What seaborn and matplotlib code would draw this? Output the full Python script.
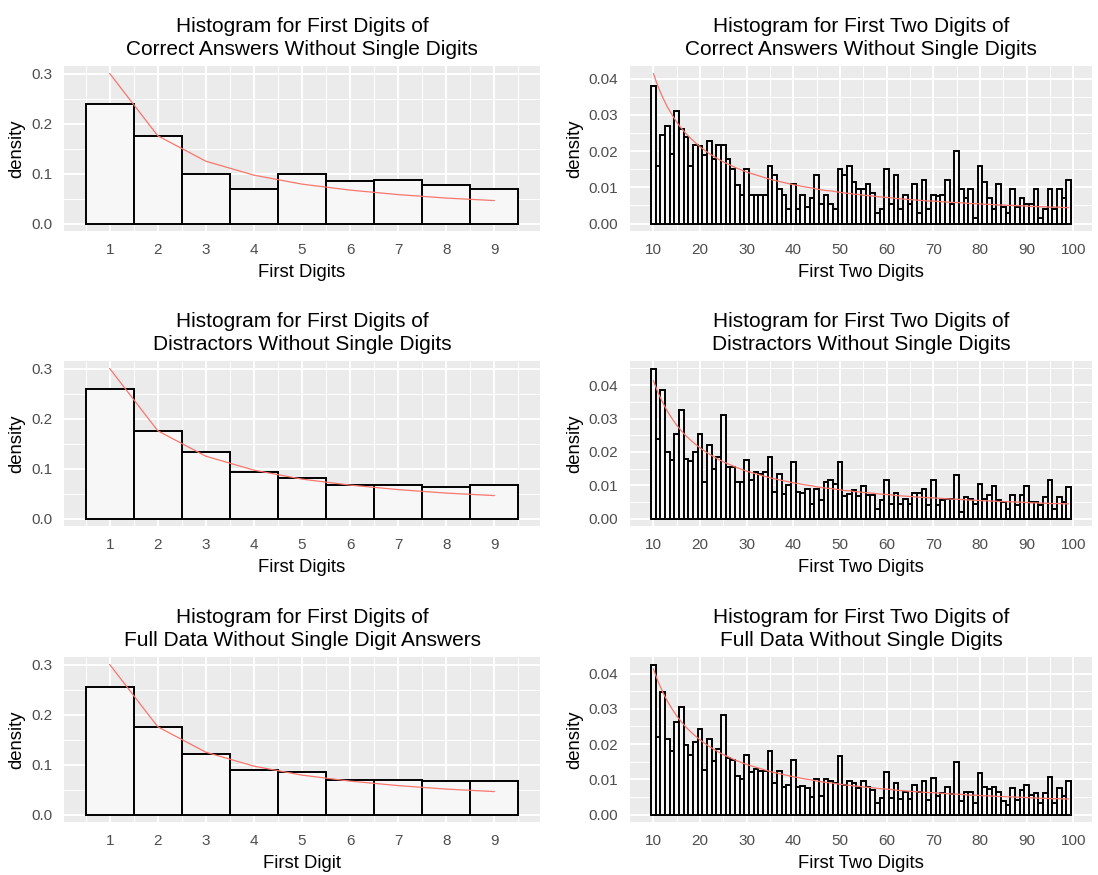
import numpy as np
import pandas as pd
import matplotlib
matplotlib.use("Agg")
import matplotlib.pyplot as plt
import seaborn as sns
from matplotlib.ticker import FixedLocator, MultipleLocator, FormatStrFormatter

# ---------------- data ----------------
first_digits = list(range(1, 10))
two_digits = list(range(10, 100))

correct_first = [0.240, 0.175, 0.100, 0.070, 0.100, 0.085, 0.088, 0.077, 0.070]
distractor_first = [0.260, 0.175, 0.133, 0.093, 0.082, 0.068, 0.067, 0.063, 0.067]
full_first = [0.255, 0.175, 0.122, 0.089, 0.085, 0.070, 0.070, 0.067, 0.067]
benford_first = [0.301, 0.176, 0.125, 0.097, 0.079, 0.067, 0.058, 0.051, 0.046]

correct_two = [
    0.038, 0.016, 0.0243, 0.0269, 0.0192, 0.031, 0.026, 0.024, 0.016, 0.0218,
    0.0215, 0.019, 0.0228, 0.0178, 0.0218, 0.0218, 0.0178, 0.015, 0.0105, 0.008,
    0.015, 0.008, 0.008, 0.008, 0.008, 0.016, 0.0135, 0.0095, 0.008, 0.004,
    0.011, 0.004, 0.008, 0.0045, 0.007, 0.0135, 0.0055, 0.008, 0.0055, 0.004,
    0.015, 0.0135, 0.016, 0.0115, 0.0095, 0.0095, 0.011, 0.0085, 0.003, 0.004,
    0.015, 0.0055, 0.0135, 0.004, 0.008, 0.0055, 0.011, 0.003, 0.012, 0.004,
    0.008, 0.0075, 0.008, 0.012, 0.0055, 0.020, 0.0095, 0.007, 0.0095, 0.0015,
    0.016, 0.0115, 0.007, 0.004, 0.011, 0.0045, 0.003, 0.0095, 0.0045, 0.007,
    0.0055, 0.0055, 0.0095, 0.0015, 0.004, 0.0095, 0.004, 0.0095, 0.007, 0.012,
]
distractor_two = [
    0.045, 0.024, 0.0385, 0.020, 0.0175, 0.0253, 0.0325, 0.018, 0.0173, 0.020,
    0.0253, 0.011, 0.022, 0.015, 0.0185, 0.031, 0.0155, 0.0155, 0.011, 0.011,
    0.0175, 0.0115, 0.014, 0.0135, 0.014, 0.0185, 0.008, 0.0133, 0.0075, 0.010,
    0.017, 0.008, 0.0078, 0.009, 0.0045, 0.009, 0.0055, 0.011, 0.0115, 0.0105,
    0.017, 0.0068, 0.0075, 0.0086, 0.0068, 0.0098, 0.007, 0.007, 0.003, 0.0055,
    0.0115, 0.0043, 0.0076, 0.0043, 0.006, 0.0043, 0.0076, 0.0076, 0.0088, 0.004,
    0.0115, 0.004, 0.0055, 0.006, 0.006, 0.013, 0.002, 0.0065, 0.006, 0.0045,
    0.0105, 0.006, 0.0072, 0.0098, 0.0055, 0.005, 0.003, 0.007, 0.004, 0.007,
    0.0098, 0.005, 0.005, 0.004, 0.0065, 0.0115, 0.003, 0.0066, 0.005, 0.0095,
]
full_two = [
    0.0426, 0.022, 0.0347, 0.0215, 0.018, 0.0263, 0.0304, 0.0196, 0.017, 0.0206,
    0.0242, 0.0127, 0.0215, 0.0153, 0.0185, 0.0284, 0.016, 0.0155, 0.011, 0.010,
    0.017, 0.012, 0.013, 0.0123, 0.0123, 0.018, 0.009, 0.0123, 0.0078, 0.0085,
    0.0155, 0.0078, 0.008, 0.0075, 0.005, 0.010, 0.0053, 0.010, 0.0095, 0.009,
    0.0165, 0.0085, 0.0095, 0.009, 0.0075, 0.0095, 0.0078, 0.007, 0.0033, 0.0048,
    0.012, 0.0048, 0.009, 0.0045, 0.0065, 0.0045, 0.0085, 0.0065, 0.0095, 0.004,
    0.0105, 0.0053, 0.006, 0.0078, 0.0057, 0.0148, 0.0038, 0.0064, 0.0064, 0.0033,
    0.0117, 0.0077, 0.0072, 0.0078, 0.0065, 0.0038, 0.0027, 0.0075, 0.004, 0.007,
    0.0085, 0.0055, 0.006, 0.0033, 0.006, 0.0106, 0.0033, 0.0075, 0.0053, 0.0096,
]
benford_two = [
    0.0414, 0.0378, 0.0348, 0.0322, 0.0300, 0.0280, 0.0263, 0.0248, 0.0235, 0.0223,
    0.0212, 0.0202, 0.0193, 0.0185, 0.0177, 0.0170, 0.0164, 0.0158, 0.0152, 0.0147,
    0.0142, 0.0138, 0.0134, 0.0130, 0.0126, 0.0122, 0.0119, 0.0116, 0.0113, 0.0110,
    0.0107, 0.0105, 0.0102, 0.0100, 0.0098, 0.0095, 0.0093, 0.0091, 0.0090, 0.0088,
    0.0086, 0.0084, 0.0083, 0.0081, 0.0080, 0.0078, 0.0077, 0.0076, 0.0074, 0.0073,
    0.0072, 0.0071, 0.0069, 0.0068, 0.0067, 0.0066, 0.0065, 0.0064, 0.0063, 0.0062,
    0.0062, 0.0061, 0.0060, 0.0059, 0.0058, 0.0058, 0.0057, 0.0056, 0.0055, 0.0055,
    0.0054, 0.0053, 0.0053, 0.0052, 0.0051, 0.0051, 0.0050, 0.0050, 0.0049, 0.0049,
    0.0048, 0.0047, 0.0047, 0.0046, 0.0046, 0.0045, 0.0045, 0.0045, 0.0044, 0.0044,
]

titles_first = [
    "Histogram for First Digits of\nCorrect Answers Without Single Digits",
    "Histogram for First Digits of\nDistractors Without Single Digits",
    "Histogram for First Digits of\nFull Data Without Single Digit Answers",
]
titles_two = [
    "Histogram for First Two Digits of\nCorrect Answers Without Single Digits",
    "Histogram for First Two Digits of\nDistractors Without Single Digits",
    "Histogram for First Two Digits of\nFull Data Without Single Digits",
]
xlabels_first = ["First Digits", "First Digits", "First Digit"]
xlabel_two = "First Two Digits"

# ---------------- style ----------------
sns.set_theme(style="white")
plt.rcParams["font.family"] = ["Liberation Sans", "DejaVu Sans"]

W, H = 1098, 875
fig = plt.figure(figsize=(W / 100, H / 100), dpi=100)
fig.patch.set_facecolor("white")

BAR_FILL = "#F7F7F7"
LINE_COLOR = "#F8766D"
PANEL_BG = "#EBEBEB"


def px_rect(x0, y0, x1, y1):
    return [x0 / W, 1 - y1 / H, (x1 - x0) / W, (y1 - y0) / H]


def draw_panel(ax, digits, dens, benf, title, xlabel, two):
    df = pd.DataFrame({"digit": digits, "density": dens})
    sns.histplot(data=df, x="digit", weights="density", discrete=True,
                 stat="count", ax=ax, color=BAR_FILL, alpha=1,
                 edgecolor="black", linewidth=1.4)
    sns.lineplot(x=digits, y=benf, ax=ax, color=LINE_COLOR, linewidth=0.9)

    ymax = max(max(dens), max(benf))
    ax.set_ylim(-0.05 * ymax, 1.05 * ymax)
    ax.set_facecolor(PANEL_BG)
    for s in ax.spines.values():
        s.set_visible(False)
    ax.set_axisbelow(True)

    if two:
        ax.set_xlim(5, 104)
        ax.xaxis.set_major_locator(FixedLocator(list(range(10, 101, 10))))
        ax.xaxis.set_minor_locator(FixedLocator(list(range(15, 100, 10))))
        ax.yaxis.set_major_locator(MultipleLocator(0.01))
        ax.yaxis.set_minor_locator(MultipleLocator(0.005))
        ax.yaxis.set_major_formatter(FormatStrFormatter("%.2f"))
    else:
        ax.set_xlim(0.05, 9.95)
        ax.xaxis.set_major_locator(FixedLocator(list(range(1, 10))))
        ax.xaxis.set_minor_locator(FixedLocator([v + 0.5 for v in range(0, 10)]))
        ax.yaxis.set_major_locator(MultipleLocator(0.1))
        ax.yaxis.set_minor_locator(MultipleLocator(0.05))
        ax.yaxis.set_major_formatter(FormatStrFormatter("%.1f"))

    ax.grid(which="major", color="white", linewidth=1.4)
    ax.grid(which="minor", color="white", linewidth=0.7)
    ax.tick_params(which="major", length=3.5, width=0.8, color="#333333",
                   labelcolor="#4D4D4D", labelsize=11, pad=5)
    ax.tick_params(which="minor", length=0)

    ax.set_xlabel(xlabel, fontsize=13.3, color="black", labelpad=5)
    ax.set_ylabel("density", fontsize=13.3, color="black", labelpad=4)
    ax.set_title(title, fontsize=15, color="black", pad=8, linespacing=1.25)


rows = [(66, 231), (361, 526), (657, 822)]
first_sets = [correct_first, distractor_first, full_first]
two_sets = [correct_two, distractor_two, full_two]

for i, (y0, y1) in enumerate(rows):
    axl = fig.add_axes(px_rect(64, y0, 540, y1))
    draw_panel(axl, first_digits, first_sets[i], benford_first,
               titles_first[i], xlabels_first[i], two=False)
    axr = fig.add_axes(px_rect(630, y0, 1092, y1))
    draw_panel(axr, two_digits, two_sets[i], benford_two,
               titles_two[i], xlabel_two, two=True)

fig.savefig("out.png", dpi=100)
